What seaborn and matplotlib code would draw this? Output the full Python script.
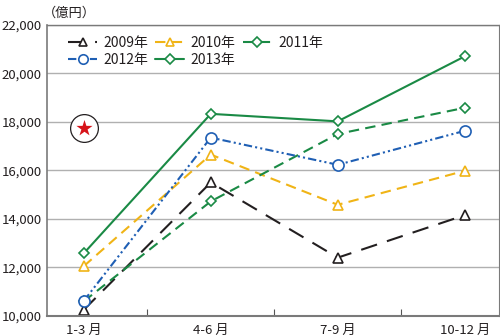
import matplotlib
matplotlib.use("Agg")
import matplotlib.pyplot as plt
import seaborn as sns
import pandas as pd
from matplotlib.ticker import FuncFormatter

quarters = ["1-3 月", "4-6 月", "7-9 月", "10-12 月"]
years = ["2009年", "2010年", "2011年", "2012年", "2013年"]
v2009 = [10250, 15500, 12400, 14150]
v2010 = [12050, 16650, 14580, 15980]
v2011 = [10600, 14720, 17500, 18580]
v2012 = [10620, 17350, 16230, 17630]
v2013 = [12580, 18330, 18020, 20700]
star_value = 17750
y_ticks = [10000, 12000, 14000, 16000, 18000, 20000, 22000]

series = [v2009, v2010, v2011, v2012, v2013]
rows = []
for yr, vals in zip(years, series):
    for i, (q, v) in enumerate(zip(quarters, vals)):
        rows.append({"year": yr, "qi": i, "value": v})
df = pd.DataFrame(rows)

colors = {"2009年": "#231f20", "2010年": "#f0b416", "2011年": "#1a8a45",
          "2012年": "#1f5fb4", "2013年": "#1a8a45"}
dashes = {"2009年": (8, 5), "2010年": (5, 3), "2011年": (5, 3),
          "2012年": (4, 1.5, 1, 1.5, 1, 1.5), "2013年": ""}
markers = {"2009年": "^", "2010年": "^", "2011年": "D", "2012年": "o", "2013年": "D"}
msize = {"2009年": 6.5, "2010年": 6.5, "2011年": 5.5, "2012年": 8, "2013年": 5.5}

sns.set_theme(style="white")
plt.rcParams["font.family"] = ["Noto Sans CJK JP", "DejaVu Sans"]

fig = plt.figure(figsize=(5.0, 3.36), dpi=100)
ax = fig.add_axes([0.094, 0.06, 0.904, 0.866])

for yr in years:
    sub = df[df["year"] == yr]
    sns.lineplot(data=sub, x="qi", y="value", ax=ax, color=colors[yr],
                 linewidth=1.5, label=yr, marker=markers[yr],
                 markersize=msize[yr], markerfacecolor="white",
                 markeredgecolor=colors[yr], markeredgewidth=1.2,
                 dashes=False, legend=False)
    line = ax.lines[-1]
    if dashes[yr]:
        line.set_dashes(dashes[yr])
    line.set_label(yr)

# star marker
ax.scatter([0], [star_value], s=400, facecolor="white", edgecolor="#231f20",
           linewidth=0.9, zorder=5)
ax.scatter([0], [star_value], s=150, marker="*", color="#d7141a", zorder=6,
           linewidth=0)

ax.set_xlim(-0.29, 3.27)
ax.set_ylim(10000, 22000)
ax.set_yticks(y_ticks)
ax.yaxis.set_major_formatter(FuncFormatter(lambda v, p: f"{int(v):,}"))
ax.set_xticks(range(len(quarters)))
ax.set_xticklabels(quarters)
ax.set_xticks([0.5, 1.5, 2.5], minor=True)
ax.tick_params(axis="x", which="minor", length=5, width=0.8, color="#555555",
               direction="in", bottom=True)
ax.tick_params(axis="x", which="major", length=0, labelsize=9.5, pad=6,
               colors="#231f20")
ax.tick_params(axis="y", length=0, labelsize=9.5, pad=4, colors="#231f20")
ax.grid(axis="y", color="#b0b0b0", linewidth=1)
ax.set_xlabel("")
ax.set_ylabel("")
for s in ax.spines.values():
    s.set_color("#7a7a7a")
    s.set_linewidth(1)
ax.spines["bottom"].set_linewidth(1.5)
ax.spines["left"].set_linewidth(1.2)
ax.spines["right"].set_linewidth(0.8)

fig.text(0.086, 0.98, "（億円）", fontsize=9.5, ha="left", va="top",
         color="#231f20")

handles = {l.get_label(): l for l in ax.lines if l.get_label() in years}
order = ["2009年", "2012年", "2010年", "2013年", "2011年"]
leg = ax.legend([handles[k] for k in order], order, ncol=3, frameon=False,
                loc="upper left", bbox_to_anchor=(0.022, 1.0),
                fontsize=10, handlelength=2.1, columnspacing=0.5,
                labelspacing=0.2, handletextpad=0.45, markerscale=0.85,
                borderpad=0.3)
for t in leg.get_texts():
    t.set_color("#231f20")

fig.savefig("out.png", dpi=100, facecolor="white")
